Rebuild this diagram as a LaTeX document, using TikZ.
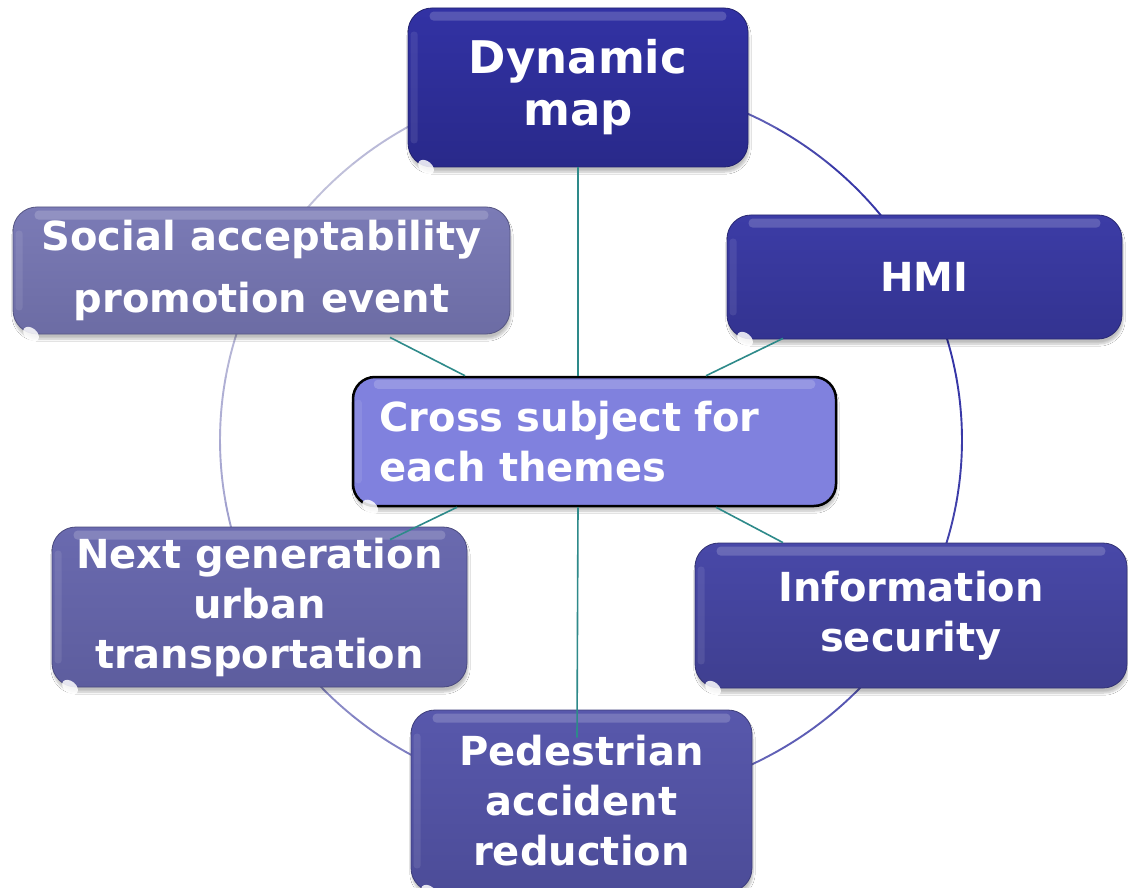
\documentclass[tikz,border=0pt]{standalone}
\usepackage{fontspec}
\setmainfont{DejaVu Sans}
\usetikzlibrary{calc,shadows.blur}
\definecolor{arcdark}{HTML}{3030A4}
\definecolor{arclight}{HTML}{C6C6DC}
\definecolor{linkteal}{HTML}{2E8A8A}
\definecolor{dynA}{HTML}{3232A4}\definecolor{dynB}{HTML}{29298A}
\definecolor{hmiA}{HTML}{3C3CA6}\definecolor{hmiB}{HTML}{333390}
\definecolor{infA}{HTML}{4848A8}\definecolor{infB}{HTML}{3F3F90}
\definecolor{pedA}{HTML}{5858AC}\definecolor{pedB}{HTML}{4C4C98}
\definecolor{nxtA}{HTML}{6A6AAF}\definecolor{nxtB}{HTML}{5D5D9E}
\definecolor{socA}{HTML}{7B7BB6}\definecolor{socB}{HTML}{6C6CA4}
\definecolor{cenfill}{HTML}{8081DE}
\tikzset{
  theme/.style={rounded corners=24pt, inner sep=0pt, align=center, text=white,
    font=\fontsize{40}{50}\selectfont\bfseries, line width=0.8pt,
    blur shadow={shadow xshift=1pt, shadow yshift=-5pt, shadow opacity=25, shadow blur steps=6}},
  link/.style={draw=linkteal, line width=1.6pt},
}
\newcommand{\boxgloss}[1]{%
  \fill[white,opacity=0.18,rounded corners=4pt] ($(#1.north west)+(22,4)$) rectangle ($(#1.north east)+(-22,13)$);
  \fill[white,opacity=0.09,rounded corners=3pt] ($(#1.north west)+(3,24)$) rectangle ($(#1.south west)+(10,-24)$);
  \fill[white,opacity=0.85,rotate around={-40:($(#1.south west)+(14,-12)$)}] ($(#1.south west)+(14,-12)$) ellipse (9pt and 6pt);
}
\begin{document}
\begin{tikzpicture}[x=1pt,y=-1pt]
\useasboundingbox (0,0) rectangle (1128,888);
\fill[white] (0,0) rectangle (1128,888);
% ring
\foreach \t/\w in {0/95,10/97,20/100,30/100,40/95,50/85,60/70,70/55,80/40,90/30,100/20,110/12,120/8,130/4,140/4,150/7,160/11,170/15,180/20,190/25,200/30,210/35,220/40,230/45,240/50,250/55,260/58,270/60,280/63,290/66,300/70,310/75,320/80,330/85,340/88,350/92}{
  \draw[line width=1.9pt, line cap=round, color=arcdark!\w!arclight]
    plot[domain=\t:\t+10, samples=8, smooth] ({591+371*cos(\x)},{440-360*sin(\x)});
}
% theme boxes
\node[theme, draw=dynB!80!black, top color=dynA, bottom color=dynB, minimum width=340pt, minimum height=159pt,
      font=\fontsize{45}{52}\selectfont\bfseries] (dyn) at (578,87.5) {Dynamic\\map};
\node[theme, draw=hmiB!80!black, top color=hmiA, bottom color=hmiB, minimum width=395pt, minimum height=124pt] (hmi) at (924.5,277) {HMI};
\node[theme, draw=infB!80!black, top color=infA, bottom color=infB, minimum width=432pt, minimum height=145pt] (inf) at (911,615.5) {Information\\security};
\node[theme, draw=pedB!80!black, top color=pedA, bottom color=pedB, minimum width=341pt, minimum height=182pt] (ped) at (581.5,801) {Pedestrian\\accident\\reduction};
\node[theme, draw=nxtB!80!black, top color=nxtA, bottom color=nxtB, minimum width=415pt, minimum height=160pt] (nxt) at (259.5,607) {Next generation\\urban\\transportation};
\node[theme, draw=socB!80!black, top color=socA, bottom color=socB, minimum width=497pt, minimum height=127pt,
      font=\fontsize{40}{62}\selectfont\bfseries] (soc) at (261.5,270.5) {Social acceptability\\promotion event};
\node[theme, draw=black, line width=2.5pt, fill=cenfill, rounded corners=22pt, minimum width=483pt, minimum height=129pt,
      align=left, text width=430pt] (cen) at (594.5,441.5) {Cross subject for\\each themes};
\boxgloss{dyn}\boxgloss{hmi}\boxgloss{inf}\boxgloss{ped}\boxgloss{nxt}\boxgloss{soc}\boxgloss{cen}
% connectors
\coordinate (pedin) at ($(ped.north)+(-4.5,28)$);
\draw[link] (dyn.south) -- (dyn.south |- cen.north);
\draw[link] (cen.south -| dyn.south) -- (pedin);
\draw[link] ($(soc.south)+(128.5,3)$) -- ($(cen.north)+(-129.5,0)$);
\draw[link] ($(hmi.south)+(-141.5,-1)$) -- ($(cen.north)+(111.5,0)$);
\draw[link] ($(cen.south)+(-137.5,0)$) -- ($(nxt.north)+(130.5,13)$);
\draw[link] ($(cen.south)+(121.5,0)$) -- ($(inf.north)+(-128,0)$);
\end{tikzpicture}
\end{document}
